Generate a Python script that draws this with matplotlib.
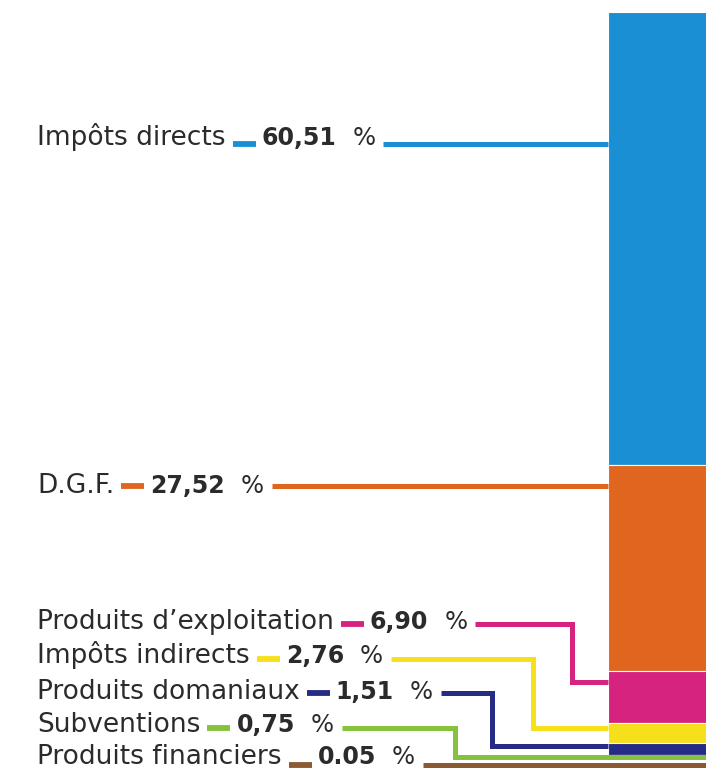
import matplotlib
matplotlib.use("Agg")
import matplotlib.pyplot as plt

labels = ["Impôts directs", "D.G.F.", "Produits d\u2019exploitation", "Impôts indirects",
          "Produits domaniaux", "Subventions", "Produits financiers"]
values = [60.51, 27.52, 6.90, 2.76, 1.51, 0.75, 0.05]
value_text = ["60,51", "27,52", "6,90", "2,76", "1,51", "0,75", "0.05"]
colors = ["#1b8fd3", "#e0661f", "#d6237f", "#f6e01c", "#262b86", "#86c23b", "#8a5a33"]

W, H = 706, 769
TOP, SCALE = 12, 7.486          # pixel of 0 %, pixels per %


def py(p):
    # pixel row -> percent axis value
    return (p - TOP) / SCALE


# layout of the labels and leader lines (pixels)
baseline_px = [145, 493, 629, 663, 699, 732, 764]
line_px = [144, 486, 624, 659, 693, 728, 765]
bend_x = [None, None, 572, 533, 492, 455, None]
end_px = [144, 486, 682, 728, 746, 757, 765]
end_x = [608, 608, 608, 608, 608, 706, 706]

fig = plt.figure(figsize=(W / 100, H / 100), dpi=100)
ax = fig.add_axes([0, 0, 1, 1])
ax.set_xlim(0, W)
ax.set_ylim(py(H), py(0))
ax.axis("off")

# stacked bar
bottom = 0
for v, c in zip(values, colors):
    ax.bar(608, v, width=120, bottom=bottom, align="edge", color=c,
           edgecolor="white", linewidth=0.8, zorder=2)
    bottom += v

fig.canvas.draw()
r = fig.canvas.get_renderer()
lw = 3.6
txt = "#2b2b2b"

for i, lab in enumerate(labels):
    y0 = py(baseline_px[i])
    t = ax.text(37, y0, lab, fontsize=19, color=txt, va="baseline",
                family="DejaVu Sans")
    x = t.get_window_extent(r).x1 + 7
    yl = py(line_px[i])
    ax.plot([x, x + 23], [yl, yl], color=colors[i], lw=4.2,
            solid_capstyle="butt", zorder=3)
    x += 29
    tv = ax.text(x, y0, value_text[i], fontsize=17, fontweight="bold",
                 color=txt, va="baseline", family="DejaVu Sans")
    x = tv.get_window_extent(r).x1 + 16
    tp = ax.text(x, y0, "%", fontsize=17.5, color=txt, va="baseline",
                 family="DejaVu Sans")
    x = tp.get_window_extent(r).x1 + 8
    if bend_x[i] is None:
        xs = [x, end_x[i]]
        ys = [yl, py(end_px[i])]
    else:
        xs = [x, bend_x[i], bend_x[i], end_x[i]]
        ys = [yl, yl, py(end_px[i]), py(end_px[i])]
    ax.plot(xs, ys, color=colors[i], lw=lw, solid_capstyle="butt",
            solid_joinstyle="miter", zorder=3)

fig.savefig("out.png", dpi=100)
